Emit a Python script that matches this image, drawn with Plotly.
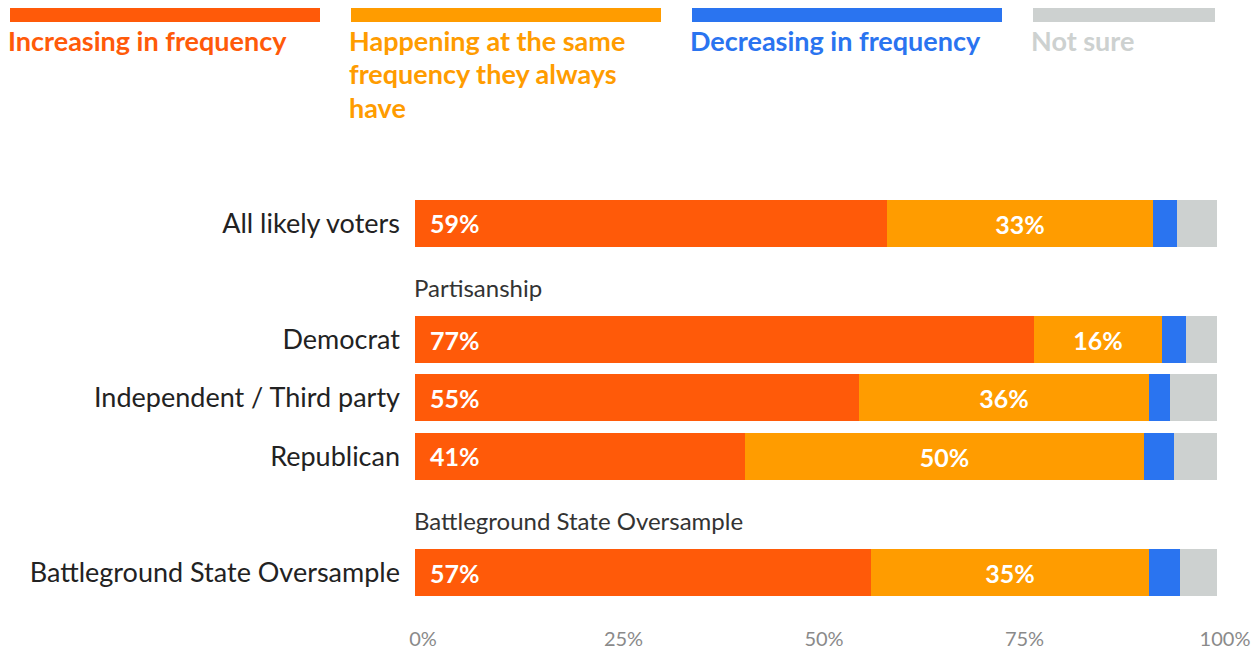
import plotly.graph_objects as go

# ---- data ----
categories = ["All likely voters", "Democrat", "Independent / Third party", "Republican",
              "Battleground State Oversample"]
row_pos = [0, 2, 3, 4, 6]
group_headers = ["Partisanship", "Battleground State Oversample"]
group_header_pos = [1, 5]

series_names = ["Increasing in frequency",
                "Happening at the same frequency they always have",
                "Decreasing in frequency", "Not sure"]
increasing = [58.9, 77.2, 55.4, 41.2, 56.9]
same = [33.1, 16.0, 36.1, 49.7, 34.6]
decreasing = [3.0, 2.9, 2.6, 3.8, 3.9]
not_sure = [5.0, 3.9, 5.9, 5.3, 4.6]

x_tick_vals = [0, 25, 50, 75, 100]
x_tick_text = ["0%", "25%", "50%", "75%", "100%"]

colors = ["#FF5A09", "#FF9C00", "#2A74F0", "#CDD1D0"]
legend_lines = [["Increasing in frequency"],
                ["Happening at the same", "frequency they always", "have"],
                ["Decreasing in frequency"],
                ["Not sure"]]

FONT = "Lato, 'Open Sans', sans-serif"
W, H = 1255, 649
ML, MR, MT, MB = 415, 38, 194, 24
PW, PH = W - ML - MR, H - MT - MB


def px_x(px):
    return (px - ML) / PW


def px_y(py):
    return (H - MB - py) / PH


fig = go.Figure()
series = [increasing, same, decreasing, not_sure]
for i, (name, vals) in enumerate(zip(series_names, series)):
    kw = {}
    if i == 1:
        kw = dict(text=[f"{round(v)}%" for v in vals], textposition="inside",
                  insidetextanchor="middle",
                  textfont=dict(family=FONT, size=25, color="white", weight="bold"))
    fig.add_trace(go.Bar(
        y=row_pos, x=vals, name=name, orientation="h",
        marker=dict(color=colors[i], line=dict(width=0)),
        width=0.81, hoverinfo="x+name", showlegend=False, **kw))

# orange labels, left-anchored with padding
for yp, v in zip(row_pos, increasing):
    fig.add_annotation(x=0, y=yp, xref="x", yref="y", text=f"{round(v)}%",
                       showarrow=False, xanchor="left", yanchor="middle", xshift=13,
                       font=dict(family=FONT, size=25, color="white", weight="bold"))

# group headers
for txt, yp in zip(group_headers, group_header_pos):
    fig.add_annotation(x=0, y=yp + 0.1, xref="x", yref="y", text=txt, showarrow=False,
                       xanchor="left", yanchor="middle", xshift=-3,
                       font=dict(family=FONT, size=24, color="#333333"))

# custom legend
legend_x = [10, 351, 692, 1033]
legend_w = [310, 310, 310, 182]
for i in range(4):
    fig.add_shape(type="rect", xref="paper", yref="paper",
                  x0=px_x(legend_x[i]), x1=px_x(legend_x[i] + legend_w[i]),
                  y0=px_y(22), y1=px_y(8), fillcolor=colors[i], line=dict(width=0))
    for j, line in enumerate(legend_lines[i]):
        fig.add_annotation(x=px_x(legend_x[i] - 4), y=px_y(40 + 33.5 * j), xref="paper", yref="paper",
                           text=line, showarrow=False, xanchor="left", yanchor="middle",
                           font=dict(family=FONT, size=27, color=colors[i], weight="bold"))

fig.update_layout(
    width=W, height=H, barmode="stack", bargap=0,
    margin=dict(l=ML, r=MR, t=MT, b=MB, autoexpand=False),
    paper_bgcolor="white", plot_bgcolor="white",
    font=dict(family=FONT),
    xaxis=dict(range=[0, 100], tickvals=x_tick_vals, ticktext=x_tick_text,
               showgrid=False, zeroline=False, showline=False, ticks="",
               tickfont=dict(family=FONT, size=20, color="#8a8a8a"), ticklabelshift=8,
               automargin=False, fixedrange=True),
    yaxis=dict(range=[6.9, -0.5], tickvals=row_pos, ticktext=categories,
               showgrid=False, zeroline=False, showline=False, ticks="",
               tickfont=dict(family=FONT, size=27, color="#222222"), ticklabelstandoff=14,
               automargin=False, fixedrange=True),
)

fig.write_html("out.html")
